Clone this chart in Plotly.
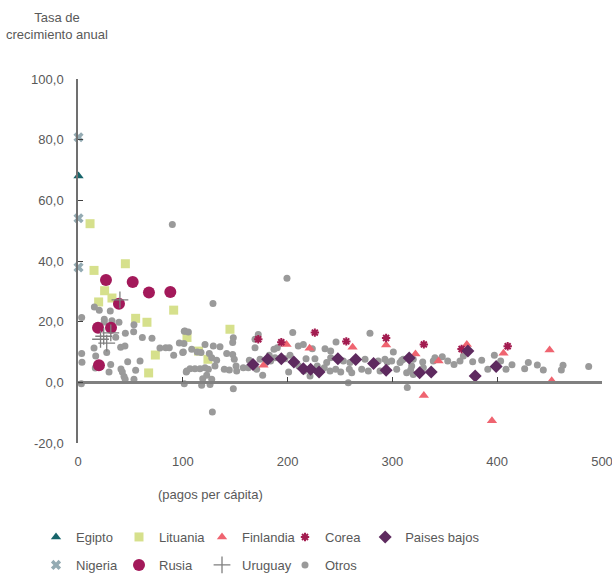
import plotly.graph_objects as go

# ---- data: pagos per cápita (x) vs tasa de crecimiento anual (y) ----
egipto_x = [0.5]
egipto_y = [68.0]

nigeria_x = [0.5, 0.5, 0.5]
nigeria_y = [80.8, 54.1, 37.9]

lituania_x = [11.5, 15.3, 45.2, 25.4, 32.4, 19.7, 91.3, 55.0, 65.8, 73.8, 67.4, 104.0, 145.0, 115.0, 124.0]
lituania_y = [52.3, 36.9, 39.1, 30.2, 27.8, 26.5, 23.8, 21.1, 19.8, 9.0, 3.1, 14.8, 17.5, 10.3, 7.6]

rusia_x = [26.7, 52.2, 67.7, 88.1, 39.1, 19.1, 31.5, 20.0]
rusia_y = [33.7, 33.1, 29.6, 29.8, 25.9, 18.0, 18.0, 5.6]

uruguay_x = [40.0, 21.5, 24.5, 31.3, 27.4]
uruguay_y = [27.2, 14.2, 15.2, 16.3, 12.9]

finlandia_x = [177, 199, 221, 262, 294, 322, 330, 344, 371, 395, 406, 450, 452]
finlandia_y = [5.6, 12.5, 11.2, 11.6, 12.3, 9.3, -4.3, 7.0, 12.5, -12.7, 9.6, 10.7, 0.5]

corea_x = [172, 194, 226, 256, 294, 330, 366, 410]
corea_y = [14.2, 13.2, 16.4, 13.5, 14.6, 12.5, 11.0, 11.9]

paises_bajos_x = [167, 181, 194, 206, 215, 222, 230, 248, 265, 282, 294, 316, 326, 337, 372, 379, 399]
paises_bajos_y = [5.9, 7.6, 7.8, 6.7, 4.5, 4.3, 3.4, 7.8, 7.5, 6.2, 4.0, 8.0, 3.2, 3.4, 10.3, 2.1, 5.2]

otros_x = [
    3.5, 15.6, 20.3, 30.8, 25.1, 25.1, 32.4, 39.1, 36.0, 45.2, 53.4, 53.1, 61.4, 70.6,
    40.7, 44.8, 15.3, 3.5, 3.8, 16.9, 27.4, 47.4, 59.2, 31.2, 16.5, 29.6, 41.0, 42.3,
    43.9, 45.0, 55.0, 53.4, 3.2, 78.2, 83.7, 87.1, 91.3, 96.7, 101.4, 99.9, 103.3, 101.4, 90.0,
    102.0, 105.3, 101.1, 100.5, 108.5, 113.8, 117.4, 121.2, 125.3, 129.1, 135.5, 127.6,
    132.3, 130.7, 103.7, 106.9, 111.6, 116.4, 121.2, 124.4, 119.0, 118.0, 126.0, 127.6,
    122.8, 128.2, 148.2, 139.6, 144.4, 147.6, 147.6, 148.2, 149.1, 150.8, 151.4, 157.7,
    141.9, 128.8,
    163.5, 168.9, 172.0, 168.9, 162.5, 170.5, 176.2, 173.7, 182.5, 187.0, 190.2, 183.8,
    188.0, 204.9, 210.2, 215.0, 202.3, 197.5, 201.0, 210.6, 199.4, 223.6, 217.6, 215.6,
    221.4, 226.1, 228.3,
    235.7, 241.1, 246.2, 241.1, 237.3, 235.0, 240.5, 245.9, 250.7, 253.2, 259.5, 258.9,
    261.2, 257.9, 278.6, 273.9, 270.7, 277.0, 286.5, 288.2, 292.9, 295.1, 300.9, 304.1,
    307.3, 313.6, 314.2, 310.4, 318.4, 319.9, 328.9,
    299.3, 308.9, 317.4, 319.9, 329.5, 339.0, 340.6, 347.6, 352.8, 358.8, 364.5, 367.7,
    376.6, 385.2, 391.0, 397.3, 403.3, 408.4, 414.1, 426.2, 429.7, 438.3, 444.0, 461.2,
    462.8, 487.3,
]
otros_y = [
    21.4, 24.8, 23.8, 23.5, 20.8, 19.9, 20.3, 19.8, 14.9, 16.2, 19.0, 16.7, 14.8, 14.5,
    11.6, 12.0, 11.3, 9.5, 6.6, 8.7, 9.8, 6.8, 7.0, 5.9, 4.7, 3.4, 4.4, 3.4,
    1.9, 1.0, 4.0, 1.0, -0.5, 11.3, 11.4, 11.4, 8.9, 13.0, 16.8, 9.8, 3.4, -0.5, 52.0,
    16.9, 16.6, 12.8, 10.0, 10.9, 10.0, 9.8, 12.5, 9.5, 12.0, 11.7, 8.1,
    7.3, 5.4, 3.7, 4.5, 4.5, 4.5, 4.8, 4.3, 1.2, -1.0, -0.7, 1.0,
    2.3, -9.8, -2.1, 4.3, 4.1, 9.2, 13.1, 14.7, 7.6, 5.4, 3.7, 4.8,
    9.5, 26.0,
    7.3, 14.2, 15.8, 11.4, 4.8, 4.3, 2.3, 7.6, 8.9, 10.9, 11.4, 7.0,
    8.1, 16.4, 12.0, 12.5, 8.9, 7.8, 3.4, 5.4, 34.3, 11.1, 7.8, 3.7,
    2.1, 7.8, 5.4,
    11.1, 10.3, 13.3, 8.1, 6.5, 4.8, 3.7, 4.3, 3.4, 7.0, 6.5, 4.3,
    3.2, -0.1, 16.2, 7.6, 4.3, 3.7, 7.0, 3.7, 7.6, 6.7, 10.0, 4.3,
    6.5, 3.2, -1.7, 7.6, 5.4, 2.6, 6.7,
    7.0, 7.3, 4.1, 7.6, 4.8, 7.0, 8.1, 8.4, 7.0, 5.9, 7.0, 8.7,
    6.8, 7.3, 4.3, 8.9, 7.0, 4.3, 5.8, 4.5, 6.5, 5.7, 4.1, 4.1,
    5.6, 5.2,
]

x_ticks = [0, 100, 200, 300, 400, 500]
y_ticks = [-20, 0, 20, 40, 60, 80, 100]
# labels with decimal comma and a plain hyphen for negatives
y_ticktext = [f"{v:.1f}".replace(".", ",") for v in y_ticks]

FONT = "Liberation Sans, Arial, sans-serif"
TXT = "#595959"
FS = 13

# figure geometry (pixels)
W, H = 612, 575
L, R, T, B = 78, 10, 79, 132
PW, PH = W - L - R, H - T - B


def px_to_paper(px, py):
    return (px - L) / PW, (H - B - py) / PH


fig = go.Figure()


def add(name, xs, ys, symbol, color, size, legend, rank, line=None):
    marker = dict(symbol=symbol, color=color, size=size)
    marker["line"] = line if line else dict(width=0)
    fig.add_trace(go.Scatter(
        x=xs, y=ys, mode="markers", name=name, marker=marker,
        legend=legend, legendrank=rank, cliponaxis=False,
    ))


# drawing order (later traces on top)
add("Lituania", lituania_x, lituania_y, "square", "#d6e08c", 9, "legend", 2)
add("Otros", otros_x, otros_y, "circle", "#9a9a9a", 7, "legend2", 9)
add("Egipto", egipto_x, egipto_y, "triangle-up", "#17656b", 9, "legend", 1)
add("Finlandia", finlandia_x, finlandia_y, "triangle-up", "#ef6470", 9, "legend", 3)
add("Corea", corea_x, corea_y, "asterisk-open", "#a31c50", 7, "legend", 4,
    line=dict(color="#a31c50", width=2))
add("Paises bajos", paises_bajos_x, paises_bajos_y, "diamond", "#5e2a5f", 10, "legend3", 5)
add("Nigeria", nigeria_x, nigeria_y, "x", "#94abb3", 9, "legend2", 6)
add("Rusia", rusia_x, rusia_y, "circle", "#a3195a", 12, "legend2", 7)
add("Uruguay", uruguay_x, uruguay_y, "cross-thin-open", "#7f7f7f", 12, "legend2", 8,
    line=dict(color="#7f7f7f", width=1.3))

# empty trace that binds the x-axis drawn along y = 0
fig.add_trace(go.Scatter(x=[None], y=[None], xaxis="x2", showlegend=False,
                         hoverinfo="skip"))

zero_pos = (0 - y_ticks[0]) / (y_ticks[-1] - y_ticks[0])

LEG_LEFT = 36
lx, ly1 = px_to_paper(LEG_LEFT, 537)
_, ly2 = px_to_paper(LEG_LEFT, 565)
lx5, _ = px_to_paper(LEG_LEFT + 4 * 82.3, 537)
legend_common = dict(
    orientation="h", xanchor="left", yanchor="middle", x=lx,
    entrywidth=38, entrywidthmode="pixels", traceorder="normal",
    font=dict(family=FONT, size=FS, color=TXT), bgcolor="rgba(0,0,0,0)",
    itemsizing="trace", tracegroupgap=0,
)

ytx, yty = px_to_paper(57, 8)
xtx, xty = px_to_paper(210, 494)

fig.update_layout(
    width=W, height=H,
    margin=dict(l=L, r=R, t=T, b=B, pad=0, autoexpand=False),
    paper_bgcolor="white", plot_bgcolor="white",
    font=dict(family=FONT, size=FS, color=TXT),
    showlegend=True,
    legend=dict(legend_common, y=ly1),
    legend2=dict(legend_common, y=ly2),
    legend3=dict(legend_common, y=ly1, x=lx5, entrywidth=0),
    xaxis=dict(
        range=[0, 500], tickvals=x_ticks, showline=False, showgrid=False,
        zeroline=False, ticks="", ticklabelstandoff=9, ticklabeloverflow="allow",
        tickfont=dict(family=FONT, size=FS, color=TXT), fixedrange=True,
    ),
    xaxis2=dict(
        range=[0, 500], tickvals=x_ticks, overlaying="x", anchor="free",
        position=zero_pos, side="bottom", showline=True, linecolor="#808080",
        linewidth=2.5, ticks="inside", ticklen=5, tickwidth=1.2,
        tickcolor="#404040", showticklabels=False, showgrid=False, zeroline=False,
    ),
    yaxis=dict(
        range=[-20, 100], tickvals=y_ticks, ticktext=y_ticktext, showline=True,
        linecolor="#707070", linewidth=1.5, ticks="inside", ticklen=5,
        tickwidth=1.2, tickcolor="#404040", showgrid=False, zeroline=False,
        ticklabelstandoff=10, tickfont=dict(family=FONT, size=FS, color=TXT),
    ),
    annotations=[
        dict(text="Tasa de<br>crecimiento anual", xref="paper", yref="paper",
             x=ytx, y=yty, xanchor="center", yanchor="top", showarrow=False,
             align="center", font=dict(family=FONT, size=FS, color=TXT)),
        dict(text="(pagos per cápita)", xref="paper", yref="paper",
             x=xtx, y=xty, xanchor="center", yanchor="middle", showarrow=False,
             font=dict(family=FONT, size=FS, color=TXT)),
    ],
)

fig.write_html("out.html")
